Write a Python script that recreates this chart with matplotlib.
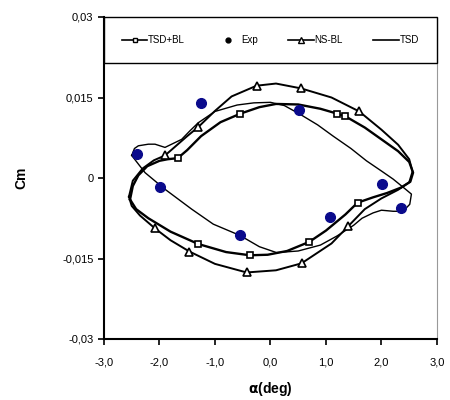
import numpy as np
import matplotlib
matplotlib.use("Agg")
import matplotlib.pyplot as plt
from matplotlib.lines import Line2D
from matplotlib.ticker import FuncFormatter

plt.rcParams['font.family'] = ['Liberation Sans', 'DejaVu Sans']

# TSD+BL loop
tsdbl_x = [-2.53, -2.48, -2.38, -2.22, -2.0, -1.85, -1.67, -1.5, -1.25, -0.9, -0.54, -0.2, 0.1, 0.5,
           0.9, 1.2, 1.35, 1.7, 2.0, 2.3, 2.5, 2.57, 2.52,
           2.35, 2.1, 1.85, 1.57, 1.35, 1.0, 0.7, 0.3, -0.05, -0.37, -0.8, -1.3, -1.8, -2.2, -2.42, -2.53]
tsdbl_y = [-0.004, -0.0015, 0.0005, 0.0022, 0.0032, 0.0035, 0.0037, 0.0052, 0.0078, 0.0104, 0.0120, 0.0132, 0.0138, 0.0137,
           0.0129, 0.0120, 0.0115, 0.0094, 0.0072, 0.0050, 0.0030, 0.0010, -0.0007,
           -0.0018, -0.0028, -0.0036, -0.0046, -0.0068, -0.0098, -0.0119, -0.0136, -0.0143, -0.0144, -0.0138, -0.0123,
           -0.0100, -0.0075, -0.0058, -0.004]
tsdbl_mx = [-1.67, -0.54, 1.2, 1.35, 1.57, 0.7, -0.37, -1.3]
tsdbl_my = [0.0037, 0.0120, 0.0120, 0.0115, -0.0046, -0.0119, -0.0144, -0.0123]

# NS-BL loop
nsbl_x = [-2.55, -2.48, -2.3, -2.1, -1.9, -1.7, -1.5, -1.3, -1.0, -0.7, -0.25, 0.1, 0.55, 1.1, 1.6, 2.0,
          2.3, 2.5, 2.56, 2.5,
          2.3, 2.0, 1.7, 1.4, 1.1, 0.56, 0.1, -0.43, -1.0, -1.46, -1.8, -2.08, -2.35, -2.5, -2.55]
nsbl_y = [-0.0035, -0.0005, 0.0018, 0.0033, 0.0042, 0.0060, 0.0078, 0.0095, 0.0125, 0.0152, 0.0172, 0.0176,
          0.0167, 0.0150, 0.0124, 0.0090, 0.0062, 0.0035, 0.0012, -0.0008,
          -0.0022, -0.0038, -0.0058, -0.0090, -0.0122, -0.0159, -0.0172, -0.0176, -0.0160, -0.0137, -0.0116,
          -0.0094, -0.0070, -0.0052, -0.0035]
nsbl_mx = [-1.9, -1.3, -0.25, 0.55, 1.6, 1.4, 0.56, -0.43, -1.46, -2.08]
nsbl_my = [0.0042, 0.0095, 0.0172, 0.0167, 0.0124, -0.0090, -0.0159, -0.0176, -0.0137, -0.0094]

# TSD loop
tsd_x = [-2.50, -2.45, -2.38, -2.2, -2.08, -1.9, -1.78, -1.6, -1.45, -1.3, -1.0, -0.6, -0.3, 0.0, 0.25,
         0.53, 0.85, 1.13, 1.45, 1.73, 2.0, 2.21, 2.4, 2.54, 2.51, 2.39, 2.21, 2.0, 1.85, 1.65, 1.5,
         1.2, 0.9, 0.5, 0.11, -0.2, -0.55, -1.03, -1.42, -1.9, -2.26, -2.5]
tsd_y = [0.0042, 0.0055, 0.0060, 0.0063, 0.0063, 0.0057, 0.0063, 0.0072, 0.0088, 0.0103, 0.0124, 0.0136,
         0.0140, 0.0141, 0.0135, 0.0119, 0.0099, 0.0078, 0.0055, 0.0032, 0.0013, -0.0002, -0.0018,
         -0.0030, -0.0049, -0.0062, -0.0062, -0.0060, -0.0065, -0.0075, -0.0088, -0.0108, -0.0125,
         -0.0136, -0.0139, -0.0128, -0.0107, -0.0086, -0.0058, -0.0021, 0.0010, 0.0042]

# experiment
exp_x = [-2.41, -1.26, -1.99, -0.55, 0.52, 2.01, 1.08, 2.35]
exp_y = [0.0045, 0.0139, -0.0016, -0.0106, 0.0127, -0.0012, -0.0073, -0.0055]

fig = plt.figure(figsize=(4.5, 4.0), dpi=100)
ax = fig.add_axes([0.231, 0.1525, 0.74, 0.805])

ax.plot(tsd_x, tsd_y, color='k', lw=1.0)
ax.plot(tsdbl_x, tsdbl_y, color='k', lw=1.7)
ax.plot(tsdbl_mx, tsdbl_my, ls='none', marker='s', ms=5, mfc='w', mec='k', mew=1.2)
ax.plot(nsbl_x, nsbl_y, color='k', lw=1.4)
ax.plot(nsbl_mx, nsbl_my, ls='none', marker='^', ms=6, mfc='w', mec='k', mew=1.2)
ax.plot(exp_x, exp_y, ls='none', marker='o', ms=7, color='#0a0a8c')

ax.set_xlim(-3, 3)
ax.set_ylim(-0.03, 0.03)
ax.set_xticks([-3, -2, -1, 0, 1, 2, 3])
ax.set_yticks([-0.03, -0.015, 0, 0.015, 0.03])
ax.xaxis.set_major_formatter(FuncFormatter(lambda v, p: ('%.1f' % v).replace('.', ',')))
ax.yaxis.set_major_formatter(FuncFormatter(lambda v, p: '0' if abs(v) < 1e-9 else ('%g' % v).replace('.', ',')))
ax.tick_params(labelsize=8, length=4, width=1.2, direction='out')
ax.tick_params(axis='x', pad=9)
for s in ['left', 'bottom']:
    ax.spines[s].set_linewidth(1.5)
ax.spines['right'].set_color('#999999')
ax.spines['top'].set_visible(False)

ax.set_xlabel(r'$\mathbf{\alpha}$(deg)', fontsize=10, fontweight='bold', labelpad=9)
ax.set_ylabel('Cm', fontsize=10, fontweight='bold', labelpad=24)

handles = [Line2D([], [], color='k', lw=1.2, marker='s', ms=3.5, mfc='w', mec='k'),
           Line2D([], [], ls='none', marker='o', ms=3.5, color='k'),
           Line2D([], [], color='k', lw=1.2, marker='^', ms=4, mfc='w', mec='k'),
           Line2D([], [], color='k', lw=1.2)]
leg = ax.legend(handles, ['TSD+BL', 'Exp', 'NS-BL', 'TSD'], loc='upper left',
                bbox_to_anchor=(0, 0.857, 1, 0.143), mode='expand', ncol=4, borderaxespad=0,
                fancybox=False, edgecolor='k', framealpha=1, fontsize=7, handlelength=2.6,
                handletextpad=0.1, columnspacing=0.5, borderpad=1.85)
leg.get_frame().set_linewidth(1.0)

plt.savefig('out.png', dpi=100)
